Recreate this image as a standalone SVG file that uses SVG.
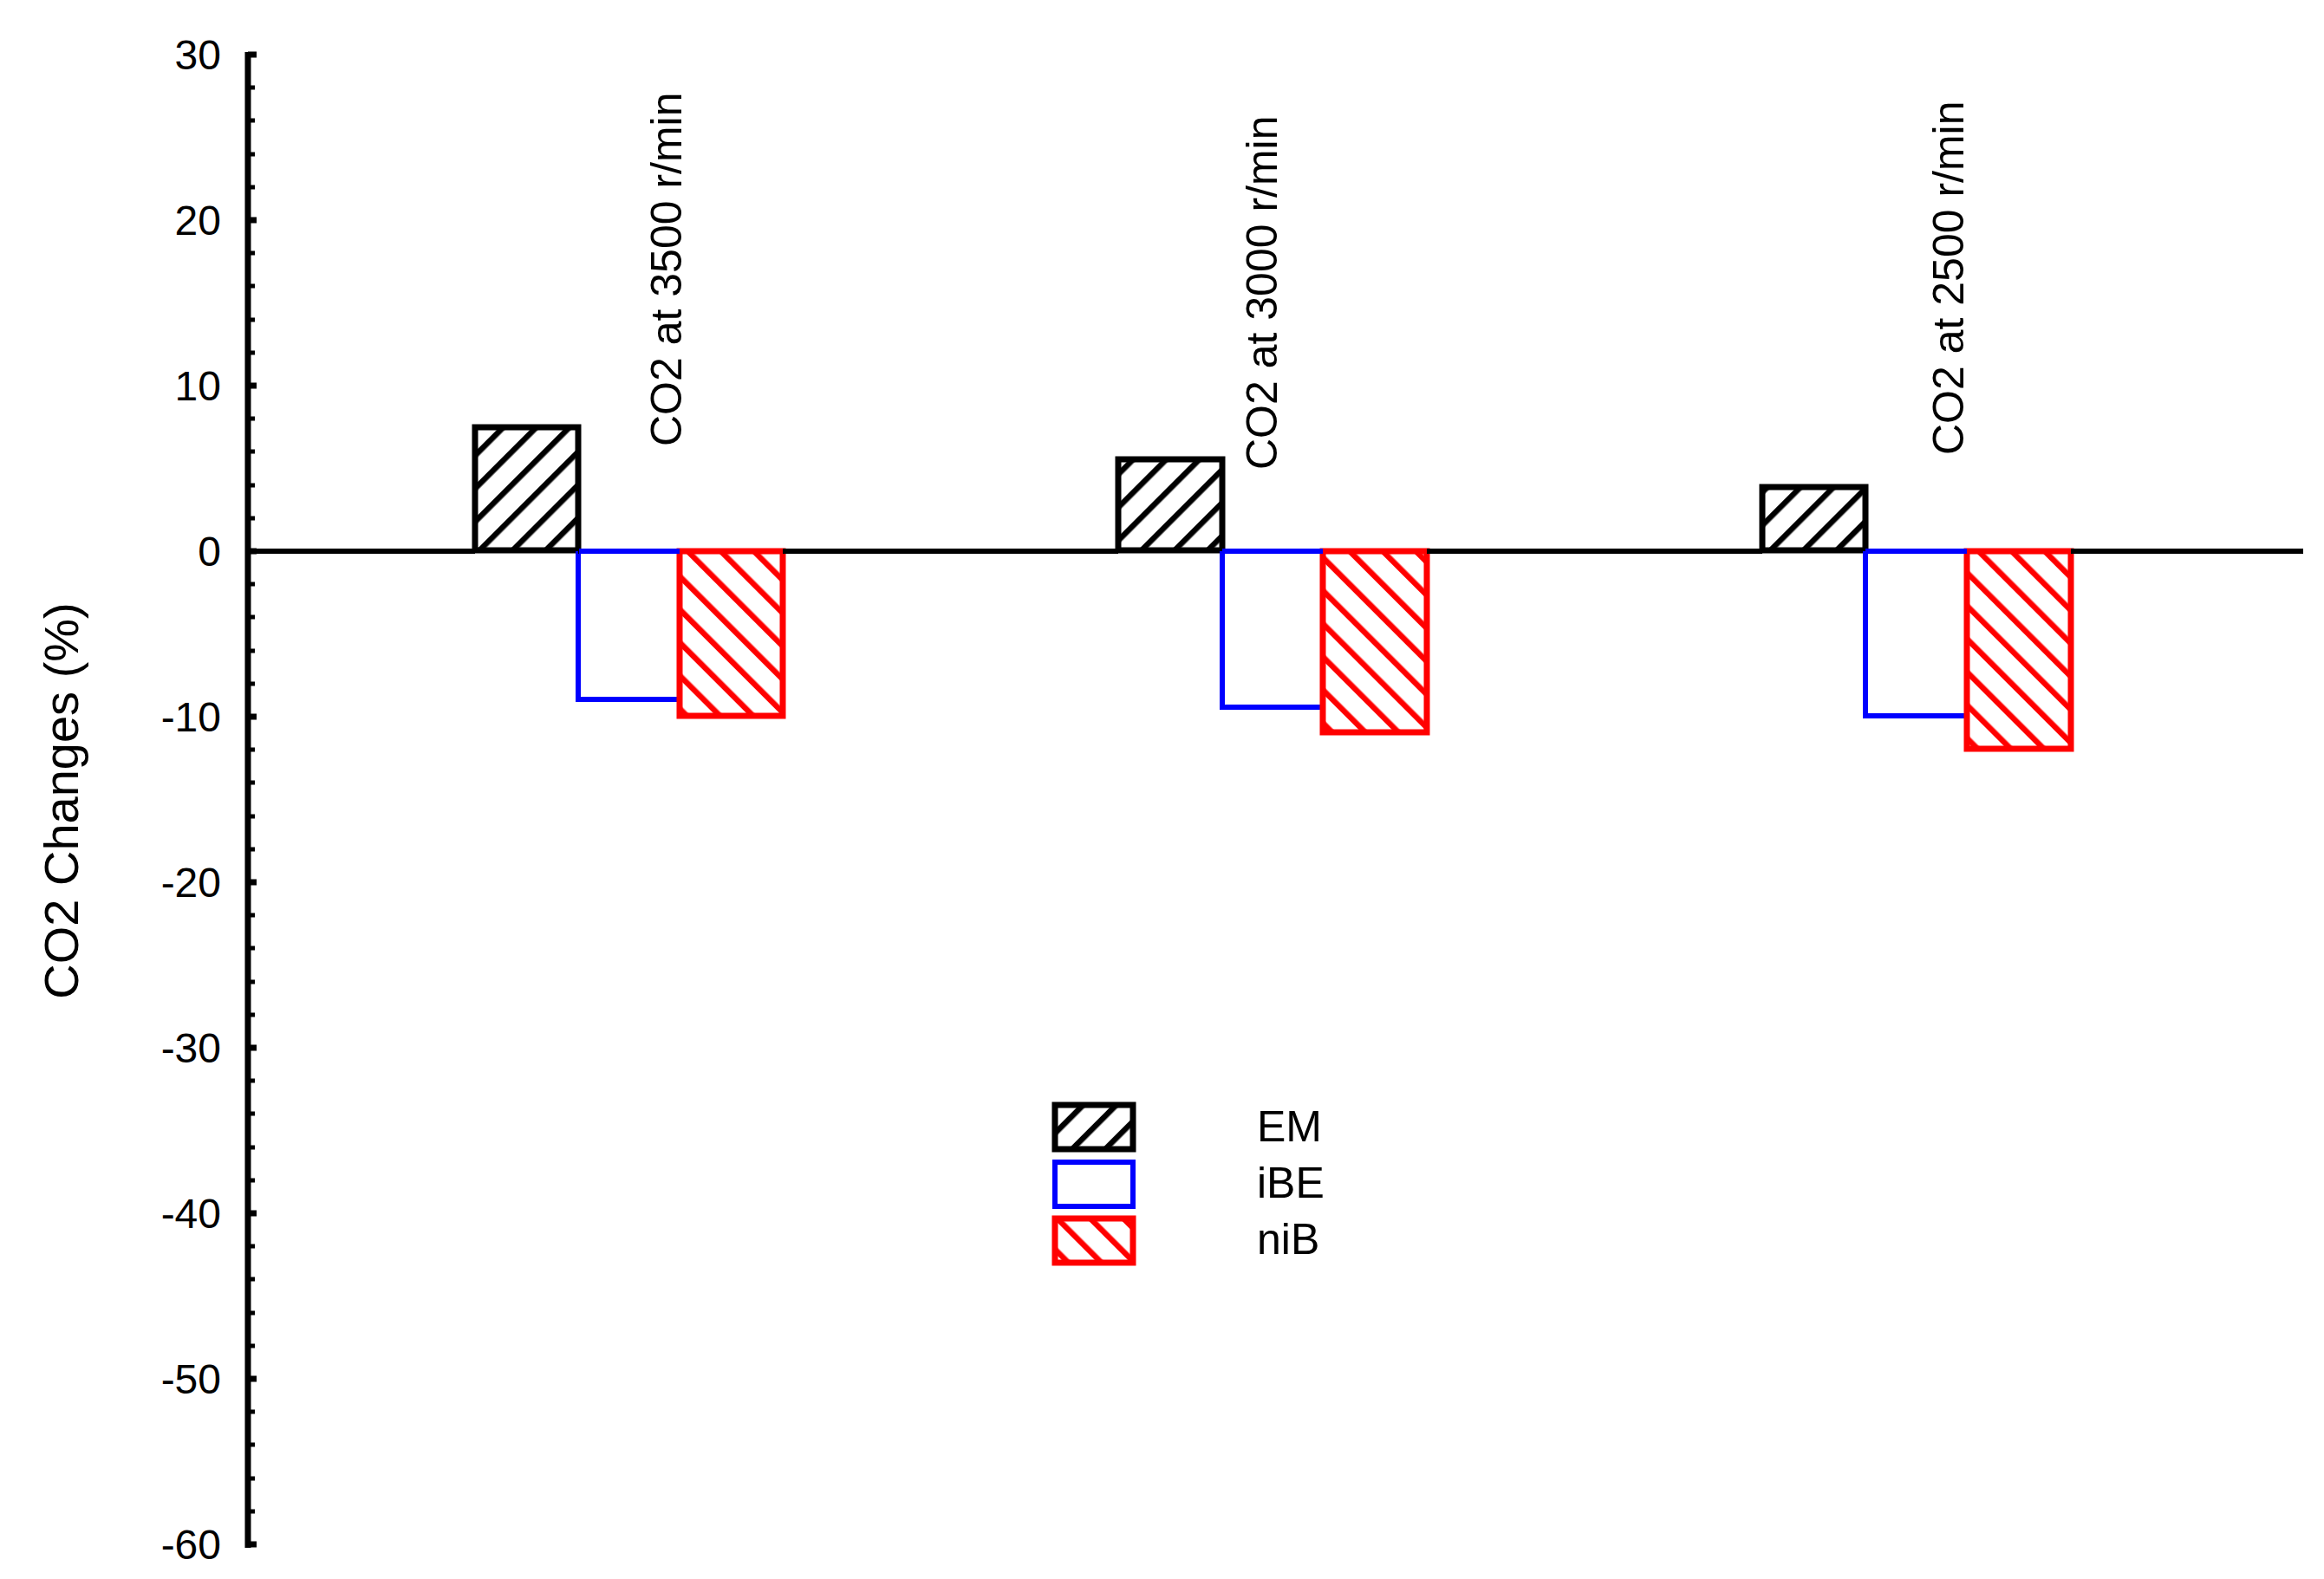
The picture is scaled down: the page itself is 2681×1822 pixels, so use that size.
<svg xmlns="http://www.w3.org/2000/svg" width="2681" height="1822" viewBox="0 0 2681 1822">
<style>
text{font-family:"Liberation Sans",Arial,sans-serif;fill:#000}
.tl{font-size:48px;text-anchor:end}
.lab{font-size:50px}
.em{fill:url(#hb);stroke:#000;stroke-width:7}
.ibe{fill:none;stroke:#00f;stroke-width:6}
.nib{fill:url(#hr);stroke:#f00;stroke-width:7}
</style>
<defs>
<pattern id="hb" width="27" height="27" patternUnits="userSpaceOnUse" patternTransform="rotate(45)"><rect width="27" height="27" fill="#fff"/><line x1="3" y1="0" x2="3" y2="27" stroke="#000" stroke-width="7"/></pattern>
<pattern id="hr" width="27" height="27" patternUnits="userSpaceOnUse" patternTransform="rotate(-45)"><rect width="27" height="27" fill="#fff"/><line x1="3" y1="0" x2="3" y2="27" stroke="#f00" stroke-width="7"/></pattern>
</defs>
<g id="axis">
<line x1="286" y1="60" x2="286" y2="1786" stroke="#000" stroke-width="7"/>
<path d="M286 63h10M286 254h10M286 445h10M286 636h10M286 827h10M286 1018h10M286 1209h10M286 1400h10M286 1591h10M286 1782h10" stroke="#000" stroke-width="7"/>
<path d="M286 101h8M286 139h8M286 178h8M286 216h8M286 292h8M286 330h8M286 369h8M286 407h8M286 483h8M286 521h8M286 560h8M286 598h8M286 674h8M286 712h8M286 751h8M286 789h8M286 865h8M286 903h8M286 942h8M286 980h8M286 1056h8M286 1094h8M286 1133h8M286 1171h8M286 1247h8M286 1285h8M286 1324h8M286 1362h8M286 1438h8M286 1476h8M286 1515h8M286 1553h8M286 1629h8M286 1667h8M286 1706h8M286 1744h8" stroke="#000" stroke-width="5"/>
<text class="tl" x="255" y="80">30</text>
<text class="tl" x="255" y="271">20</text>
<text class="tl" x="255" y="462">10</text>
<text class="tl" x="255" y="653">0</text>
<text class="tl" x="255" y="844">-10</text>
<text class="tl" x="255" y="1035">-20</text>
<text class="tl" x="255" y="1226">-30</text>
<text class="tl" x="255" y="1417">-40</text>
<text class="tl" x="255" y="1608">-50</text>
<text class="tl" x="255" y="1799">-60</text>
<text x="90" y="924" font-size="56" text-anchor="middle" transform="rotate(-90 90 924)">CO2 Changes (%)</text>
</g>
<g id="bars">
<rect class="em" x="548" y="493" width="119" height="142"/>
<path class="ibe" d="M667 636V807H784"/>
<rect class="nib" x="784" y="636" width="119" height="190"/>
<rect class="em" x="1290" y="530" width="120" height="105"/>
<path class="ibe" d="M1410 636V816H1526"/>
<rect class="nib" x="1526" y="636" width="120" height="209"/>
<rect class="em" x="2033" y="562" width="119" height="73"/>
<path class="ibe" d="M2152 636V826H2269"/>
<rect class="nib" x="2269" y="636" width="120" height="228"/>
<line x1="667" y1="636" x2="784" y2="636" stroke="#00f" stroke-width="6"/>
<line x1="1410" y1="636" x2="1526" y2="636" stroke="#00f" stroke-width="6"/>
<line x1="2152" y1="636" x2="2269" y2="636" stroke="#00f" stroke-width="6"/>
<path d="M286 636H548M667 636H668M903 636H1290M1646 636H2033M2389 636H2657" stroke="#000" stroke-width="6"/>
</g>
<g id="labels">
<text class="lab" x="786" y="515" transform="rotate(-90 786 515)">CO2 at 3500 r/min</text>
<text class="lab" x="1473" y="542" transform="rotate(-90 1473 542)">CO2 at 3000 r/min</text>
<text class="lab" x="2265" y="525" transform="rotate(-90 2265 525)">CO2 at 2500 r/min</text>
</g>
<g id="legend">
<rect class="em" x="1217" y="1275" width="90" height="51"/>
<rect class="ibe" x="1217" y="1341" width="90" height="51"/>
<rect class="nib" x="1217" y="1406" width="90" height="51"/>
<text class="lab" x="1450" y="1317">EM</text>
<text class="lab" x="1450" y="1382">iBE</text>
<text class="lab" x="1450" y="1447">niB</text>
</g>
</svg>
